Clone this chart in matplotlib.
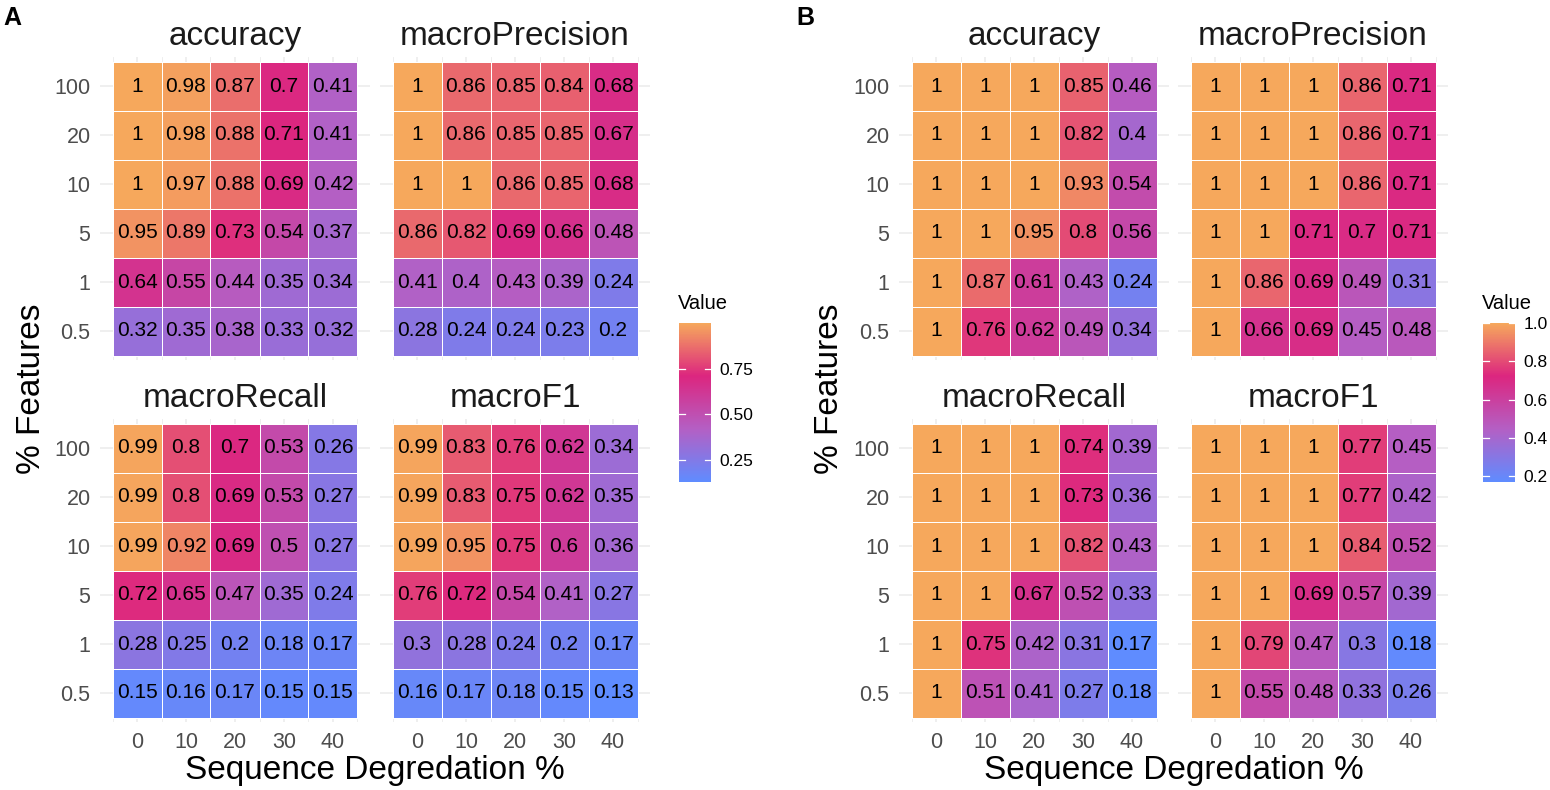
import numpy as np
import matplotlib
matplotlib.use("Agg")
import matplotlib.pyplot as plt
from matplotlib.colors import LinearSegmentedColormap, Normalize
from matplotlib.cm import ScalarMappable

plt.rcParams['font.family'] = ['Liberation Sans', 'DejaVu Sans']

# ---------------- data ----------------
degradation = [0, 10, 20, 30, 40]
features = ["100", "20", "10", "5", "1", "0.5"]   # top to bottom
metrics = ["accuracy", "macroPrecision", "macroRecall", "macroF1"]

A_accuracy = [
    [1, 0.98, 0.87, 0.70, 0.41],
    [1, 0.98, 0.88, 0.71, 0.41],
    [1, 0.97, 0.88, 0.69, 0.42],
    [0.95, 0.89, 0.73, 0.54, 0.37],
    [0.64, 0.55, 0.44, 0.35, 0.34],
    [0.32, 0.35, 0.38, 0.33, 0.32],
]
A_macroPrecision = [
    [1, 0.86, 0.85, 0.84, 0.68],
    [1, 0.86, 0.85, 0.85, 0.67],
    [1, 1, 0.86, 0.85, 0.68],
    [0.86, 0.82, 0.69, 0.66, 0.48],
    [0.41, 0.40, 0.43, 0.39, 0.24],
    [0.28, 0.24, 0.24, 0.23, 0.20],
]
A_macroRecall = [
    [0.99, 0.80, 0.70, 0.53, 0.26],
    [0.99, 0.80, 0.69, 0.53, 0.27],
    [0.99, 0.92, 0.69, 0.50, 0.27],
    [0.72, 0.65, 0.47, 0.35, 0.24],
    [0.28, 0.25, 0.20, 0.18, 0.17],
    [0.15, 0.16, 0.17, 0.15, 0.15],
]
A_macroF1 = [
    [0.99, 0.83, 0.76, 0.62, 0.34],
    [0.99, 0.83, 0.75, 0.62, 0.35],
    [0.99, 0.95, 0.75, 0.60, 0.36],
    [0.76, 0.72, 0.54, 0.41, 0.27],
    [0.30, 0.28, 0.24, 0.20, 0.17],
    [0.16, 0.17, 0.18, 0.15, 0.13],
]

B_accuracy = [
    [1, 1, 1, 0.85, 0.46],
    [1, 1, 1, 0.82, 0.40],
    [1, 1, 1, 0.93, 0.54],
    [1, 1, 0.95, 0.80, 0.56],
    [1, 0.87, 0.61, 0.43, 0.24],
    [1, 0.76, 0.62, 0.49, 0.34],
]
B_macroPrecision = [
    [1, 1, 1, 0.86, 0.71],
    [1, 1, 1, 0.86, 0.71],
    [1, 1, 1, 0.86, 0.71],
    [1, 1, 0.71, 0.70, 0.71],
    [1, 0.86, 0.69, 0.49, 0.31],
    [1, 0.66, 0.69, 0.45, 0.48],
]
B_macroRecall = [
    [1, 1, 1, 0.74, 0.39],
    [1, 1, 1, 0.73, 0.36],
    [1, 1, 1, 0.82, 0.43],
    [1, 1, 0.67, 0.52, 0.33],
    [1, 0.75, 0.42, 0.31, 0.17],
    [1, 0.51, 0.41, 0.27, 0.18],
]
B_macroF1 = [
    [1, 1, 1, 0.77, 0.45],
    [1, 1, 1, 0.77, 0.42],
    [1, 1, 1, 0.84, 0.52],
    [1, 1, 0.69, 0.57, 0.39],
    [1, 0.79, 0.47, 0.30, 0.18],
    [1, 0.55, 0.48, 0.33, 0.26],
]

panelA = [A_accuracy, A_macroPrecision, A_macroRecall, A_macroF1]
panelB = [B_accuracy, B_macroPrecision, B_macroRecall, B_macroF1]
A_cbar_ticks = [0.25, 0.50, 0.75]
B_cbar_ticks = [0.2, 0.4, 0.6, 0.8, 1.0]

# ---------------- style ----------------
cmap = LinearSegmentedColormap.from_list(
    "bpmo",
    [(0.0, "#5F8CFF"), (0.333, "#B45FC4"), (0.667, "#DC267F"), (1.0, "#F6A85C")])

W, H = 1550, 790
fig = plt.figure(figsize=(W / 100, H / 100), dpi=100)
fig.patch.set_facecolor("white")


def ax_px(l, t, r, b):
    return fig.add_axes([l / W, 1 - b / H, (r - l) / W, (b - t) / H])


GRID = "#EBEBEB"
TICKC = "#4D4D4D"


def draw_panel(data_list, cols, rows, cbar_box, cbar_ticks, cbar_fmt):
    allv = np.concatenate([np.asarray(d, float).ravel() for d in data_list])
    norm = Normalize(vmin=allv.min(), vmax=allv.max())
    xedges = np.array(degradation + [degradation[-1] + 10], float) - 5
    yedges = np.arange(len(features) + 1) + 0.5
    for k, (name, d) in enumerate(zip(metrics, data_list)):
        r, c = divmod(k, 2)
        l, rr = cols[c]
        t, b = rows[r]
        ax = ax_px(l, t, rr, b)
        Z = np.asarray(d, float)[::-1]  # bottom row first
        for xv in degradation:
            ax.axvline(xv, color=GRID, lw=1.1, zorder=0)
        for xv in np.arange(-5, 50, 10):
            ax.axvline(xv, color=GRID, lw=0.6, zorder=0)
        for yv in range(1, len(features) + 1):
            ax.axhline(yv, color=GRID, lw=1.1, zorder=0)
        ax.pcolormesh(xedges, yedges, Z, cmap=cmap, norm=norm,
                      edgecolor="white", linewidth=0.6, zorder=1)
        for i in range(Z.shape[0]):
            for j in range(Z.shape[1]):
                v = Z[i, j]
                s = f"{v:.2f}".rstrip("0").rstrip(".")
                ax.text(degradation[j], i + 1, s, ha="center", va="center",
                        fontsize=15, color="black", zorder=3)
        ax.set_xlim(-7.5, 47.5)
        ax.set_ylim(0.4, 6.6)
        for sp in ax.spines.values():
            sp.set_visible(False)
        ax.set_xticks(degradation)
        ax.set_yticks(range(1, len(features) + 1))
        ax.tick_params(length=0, labelsize=15.5, labelcolor=TICKC, pad=7)
        if r == 1:
            ax.set_xticklabels([str(x) for x in degradation])
        else:
            ax.set_xticklabels([])
        if c == 0:
            ax.set_yticklabels(features[::-1])
        else:
            ax.set_yticklabels([])
        ax.set_title(name, fontsize=24, pad=8, color="#1A1A1A")
    # colorbar
    cl, ct, cr, cb = cbar_box
    cax = ax_px(cl, ct, cr, cb)
    sm = ScalarMappable(norm=norm, cmap=cmap)
    cbar = fig.colorbar(sm, cax=cax)
    cbar.outline.set_visible(False)
    cbar.set_ticks(cbar_ticks)
    cbar.set_ticklabels([cbar_fmt.format(v) for v in cbar_ticks])
    cax.tick_params(length=0, labelsize=12.5, pad=6, labelcolor="black")
    tr = cax.get_yaxis_transform()
    for v in cbar_ticks:
        cax.plot([0, 0.2], [v, v], color="white", lw=0.9, transform=tr)
        cax.plot([0.8, 1.0], [v, v], color="white", lw=0.9, transform=tr)
    fig.text((cl - 1) / W, 1 - 303 / H, "Value", fontsize=14.5, ha="left", va="center")


rows = [(56.6, 360.4), (418.6, 722.4)]
draw_panel(panelA, [(100.25, 369.75), (380.25, 649.75)], rows,
           (679, 323, 711, 482), A_cbar_ticks, "{:.2f}")
draw_panel(panelB, [(899.25, 1168.75), (1178.25, 1447.75)], rows,
           (1483, 323, 1515, 482), B_cbar_ticks, "{:.1f}")

# axis titles
for cx in (375, 1173.5):
    fig.text(cx / W, 1 - 770 / H, "Sequence Degredation %", fontsize=24,
             ha="center", va="center")
for cx in (32, 830):
    fig.text(cx / W, 1 - 388.5 / H, "% Features", fontsize=24, rotation=90,
             ha="center", va="center")

fig.text(12 / W, 1 - 18 / H, "A", fontsize=18, fontweight="bold", ha="center", va="center")
fig.text(805 / W, 1 - 18 / H, "B", fontsize=18, fontweight="bold", ha="center", va="center")

fig.savefig("out.png", dpi=100, facecolor="white")
